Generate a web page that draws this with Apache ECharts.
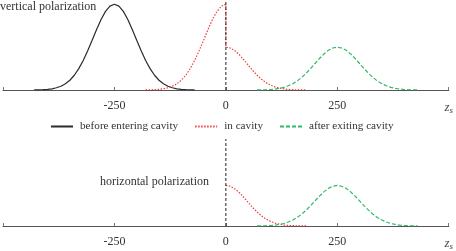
<!DOCTYPE html>
<html>
<head>
<meta charset="utf-8">
<script src="https://cdn.jsdelivr.net/npm/echarts@6/dist/echarts.min.js"></script>
<style>html,body{margin:0;padding:0;background:#fff}#c{width:456px;height:251px}</style>
</head>
<body>
<div id="c"></div>
<script>
// ---- data ----
const seriesNames = ['before entering cavity', 'in cavity', 'after exiting cavity'];
const panelTitles = ['vertical polarization', 'horizontal polarization'];
const tickValues = [-500, -250, 0, 250, 500];
const tickLabels = ['', '-250', '0', '250', ''];
const axisName = ['z', 's'];

// before entering cavity (vertical polarization)
const blackZ = [-430,-420,-410,-400,-390,-380,-370,-360,-350,-340,-330,-320,-310,-300,-290,-280,-270,-260,-250,
                -240,-230,-220,-210,-200,-190,-180,-170,-160,-150,-140,-130,-120,-110,-100,-90,-80,-70];
const blackY = [0.001,0.002,0.004,0.008,0.014,0.026,0.044,0.072,0.114,0.172,0.249,0.345,0.458,0.581,0.707,0.823,0.917,0.979,1,
                0.979,0.917,0.823,0.707,0.581,0.458,0.345,0.249,0.172,0.114,0.072,0.044,0.026,0.014,0.008,0.004,0.002,0.001];

// in cavity (vertical polarization)
const redVZ = [-180,-170,-160,-150,-140,-130,-120,-110,-100,-90,-80,-70,-60,-50,-40,-30,-20,-10,0,
               0,10,20,30,40,50,60,70,80,90,100,110,120,130,140,150,160,170,180];
const redVY = [0.001,0.002,0.004,0.008,0.014,0.026,0.044,0.072,0.114,0.172,0.249,0.345,0.458,0.581,0.707,0.823,0.917,0.979,1,
               0.5,0.49,0.459,0.412,0.354,0.291,0.229,0.173,0.125,0.086,0.057,0.036,0.022,0.013,0.007,0.004,0.002,0.001,0.0005];

// in cavity (horizontal polarization)
const redHZ = [0,10,20,30,40,50,60,70,80,90,100,110,120,130,140,150,160,170,180];
const redHY = [0.49,0.48,0.45,0.404,0.347,0.285,0.224,0.17,0.122,0.084,0.056,0.035,0.022,0.013,0.007,0.004,0.002,0.001,0.0005];

// after exiting cavity (both polarizations)
const greenZ = [70,80,90,100,110,120,130,140,150,160,170,180,190,200,210,220,230,240,250,
                260,270,280,290,300,310,320,330,340,350,360,370,380,390,400,410,420,430];
const greenVY = [0.001,0.002,0.003,0.006,0.011,0.019,0.031,0.049,0.073,0.105,0.146,0.195,0.25,0.309,0.367,0.42,0.463,0.49,0.5,
                 0.49,0.463,0.42,0.367,0.309,0.25,0.195,0.146,0.105,0.073,0.049,0.031,0.019,0.011,0.006,0.003,0.002,0.001];
const greenHY = [0.001,0.002,0.003,0.006,0.011,0.019,0.03,0.048,0.072,0.103,0.143,0.191,0.245,0.303,0.36,0.412,0.454,0.48,0.49,
                 0.48,0.454,0.412,0.36,0.303,0.245,0.191,0.143,0.103,0.072,0.048,0.03,0.019,0.011,0.006,0.003,0.002,0.001];

// cavity entrance marker
const cavityZ = 0;
const markerY = [0, 1.05];

// ---- chart ----
const FONT = 'Liberation Serif';
const colBlack = '#2b2b2b', colRed = '#f03c3c', colGreen = '#2fb865';
const zip = (xs, ys) => xs.map((x, i) => [x, ys[i]]);

function xAxis(gi) {
  return {
    type: 'value', gridIndex: gi, min: -500, max: 500, interval: 250,
    axisLine: { show: true, onZero: false, lineStyle: { color: '#555', width: 1 } },
    axisTick: { show: true, inside: true, length: 3, lineStyle: { color: '#777' } },
    splitLine: { show: false },
    axisLabel: {
      margin: 10, color: '#333', fontFamily: FONT, fontSize: 12, hideOverlap: false,
      showMinLabel: true, showMaxLabel: true,
      formatter: function (v) {
        if (v === 500) return '{z|' + axisName[0] + '}{s|' + axisName[1] + '}';
        const i = tickValues.indexOf(v);
        return i >= 0 ? tickLabels[i] : '';
      },
      rich: {
        z: { fontFamily: FONT, fontStyle: 'italic', fontSize: 13, color: '#444' },
        s: { fontFamily: FONT, fontStyle: 'italic', fontSize: 9, color: '#444', padding: [6, 0, 0, 0] }
      }
    }
  };
}
function yAxis(gi) {
  return { type: 'value', gridIndex: gi, min: 0, max: 1.05, show: false, splitLine: { show: false } };
}
function line(name, gi, data, color, type, width, z) {
  return {
    name: name, type: 'line', xAxisIndex: gi, yAxisIndex: gi, data: data,
    symbol: 'none', showSymbol: false, smooth: false, silent: true, animation: false, z: z || 2,
    lineStyle: { color: color, width: width, type: type },
    itemStyle: { color: color }
  };
}

const chart = echarts.init(document.getElementById('c'), null, { renderer: 'canvas' });
chart.setOption({
  animation: false,
  backgroundColor: '#fff',
  textStyle: { fontFamily: FONT },
  title: [
    { text: panelTitles[0], left: 0, top: 1, padding: 0, textStyle: { fontFamily: FONT, fontSize: 12, fontWeight: 'normal', color: '#333' } },
    { text: panelTitles[1], left: 100, top: 176, padding: 0, textStyle: { fontFamily: FONT, fontSize: 12, fontWeight: 'normal', color: '#333' } }
  ],
  legend: {
    data: seriesNames, left: 50, top: 121, padding: 0, itemWidth: 22, itemHeight: 10, itemGap: 16,
    itemStyle: { opacity: 0, borderWidth: 0 },
    textStyle: { fontFamily: FONT, fontSize: 11.2, color: '#333', padding: [0, 0, 0, 2] },
    selectedMode: false
  },
  grid: [
    { left: 1, right: 6, top: 0, height: 90, containLabel: false },
    { left: 1, right: 6, top: 139, height: 90, containLabel: false }
  ],
  xAxis: [xAxis(0), xAxis(1)],
  yAxis: [yAxis(0), yAxis(1)],
  series: [
    line(seriesNames[0], 0, zip(blackZ, blackY), colBlack, 'solid', 1.2, 3),
    line(seriesNames[1], 0, zip(redVZ, redVY), colRed, [1.5, 1.5], 1.2, 3),
    line(seriesNames[2], 0, zip(greenZ, greenVY), colGreen, [4, 2], 1.2, 3),
    line('marker-v', 0, [[cavityZ, markerY[0]], [cavityZ, markerY[1]]], '#222', [3, 2], 1, 4),
    line(seriesNames[1], 1, zip(redHZ, redHY), colRed, [1.5, 1.5], 1.2, 3),
    line(seriesNames[2], 1, zip(greenZ, greenHY), colGreen, [4, 2], 1.2, 3),
    line('marker-h', 1, [[cavityZ, markerY[0]], [cavityZ, markerY[1]]], '#222', [3, 2], 1, 4)
  ]
});
</script>
</body>
</html>
